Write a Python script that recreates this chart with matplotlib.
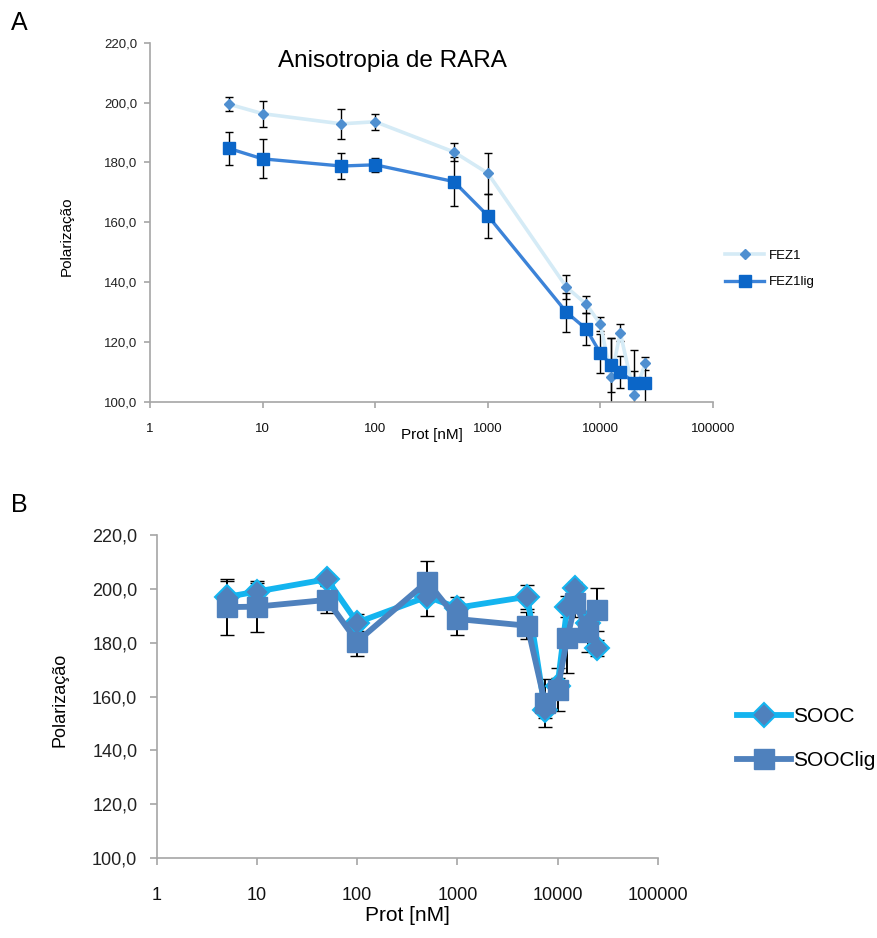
import matplotlib
matplotlib.use("Agg")
import matplotlib.pyplot as plt
from matplotlib.ticker import FixedLocator, NullLocator

plt.rcParams['font.family'] = ['Liberation Sans', 'DejaVu Sans']

# concentrations (nM)
prot = [5, 10, 50, 100, 500, 1000, 5000, 7500, 10000, 12500, 15000, 20000, 25000]

# panel A - FEZ1 anisotropy
fez1 = [199.5, 196.3, 192.9, 193.6, 183.5, 176.4, 138.3, 132.6, 125.9, 108.2, 123.1, 102.2, 112.8]
fez1_err = [2.3, 4.4, 5.0, 2.7, 3.0, 6.9, 4.0, 2.9, 2.3, 13.0, 2.8, 15.0, 2.2]
fez1lig = [184.7, 181.2, 178.8, 179.2, 173.6, 162.2, 129.9, 124.3, 116.2, 112.3, 110.0, 106.4, 106.1]
fez1lig_err = [5.6, 6.5, 4.3, 2.4, 8.3, 7.3, 6.5, 5.4, 6.5, 9.0, 5.3, 4.0, 7.0]

# panel B - SOOC
sooc = [197.0, 199.0, 203.6, 187.5, 197.1, 193.0, 197.1, 155.0, 164.0, 193.4, 200.2, 187.5, 178.0]
sooc_err = [6.0, 3.0, 2.0, 3.0, 7.0, 4.0, 4.5, 3.0, 3.0, 4.0, 2.5, 3.0, 3.0]
sooclig = [193.2, 193.4, 195.9, 180.4, 202.7, 188.8, 186.3, 157.5, 162.5, 181.7, 194.6, 184.1, 192.2]
sooclig_err = [10.3, 9.5, 5.0, 5.5, 7.5, 6.0, 5.0, 9.0, 8.0, 13.0, 5.0, 7.5, 8.0]

x_ticks = [1, 10, 100, 1000, 10000, 100000]
x_labels = ["1", "10", "100", "1000", "10000", "100000"]
y_ticks = [100, 120, 140, 160, 180, 200, 220]
y_labels = ["100,0", "120,0", "140,0", "160,0", "180,0", "200,0", "220,0"]

AXIS_GREY = "#a6a6a6"


def style_axes(ax, tick_size, xpad, ypad, tick_len):
    ax.set_xscale("log")
    ax.set_xlim(1, 100000)
    ax.set_ylim(100, 220)
    ax.xaxis.set_major_locator(FixedLocator(x_ticks))
    ax.xaxis.set_minor_locator(NullLocator())
    ax.set_xticklabels(x_labels)
    ax.set_yticks(y_ticks)
    ax.set_yticklabels(y_labels)
    for side in ["top", "right"]:
        ax.spines[side].set_visible(False)
    for side in ["left", "bottom"]:
        ax.spines[side].set_color(AXIS_GREY)
        ax.spines[side].set_linewidth(1.2)
    ax.tick_params(axis="both", color=AXIS_GREY, width=1.2, length=tick_len, labelsize=tick_size)
    ax.tick_params(axis="x", pad=xpad, labelcolor="#111111")
    ax.tick_params(axis="y", pad=ypad, labelcolor="#222222")


fig = plt.figure(figsize=(8.77, 9.38), dpi=100)

# ---- panel A ----
axA = fig.add_axes([0.171, 0.5717, 0.642, 0.3827])
axA.errorbar(prot, fez1, yerr=fez1_err, fmt="none", ecolor="black", elinewidth=1, capsize=3, zorder=2)
axA.errorbar(prot, fez1lig, yerr=fez1lig_err, fmt="none", ecolor="black", elinewidth=1, capsize=3, zorder=2)
axA.plot(prot, fez1, color="#d5ebf6", lw=2.6, marker="D", ms=5.5,
         mfc="#4f8fd0", mec="#4f8fd0", label="FEZ1", zorder=3)
axA.plot(prot, fez1lig, color="#3c83d8", lw=2.4, marker="s", ms=8,
         mfc="#0b66c8", mec="#0b66c8", label="FEZ1lig", zorder=4)
style_axes(axA, 9.5, 11, 5, 4)
axA.set_xlabel("Prot [nM]", fontsize=11)
axA.xaxis.set_label_coords(0.5, -0.072)
axA.set_ylabel("Polarização", fontsize=11)
axA.yaxis.set_label_coords(-0.135, 0.46)
axA.text(0.43, 0.95, "Anisotropia de RARA", transform=axA.transAxes,
         ha="center", va="center", fontsize=17.5)
axA.legend(loc="center left", bbox_to_anchor=(1.0, 0.37), frameon=False,
           fontsize=9.5, handlelength=3, labelspacing=1.1, handletextpad=0.3)
fig.text(0.012, 0.975, "A", fontsize=18, va="center")

# ---- panel B ----
axB = fig.add_axes([0.1787, 0.0853, 0.5713, 0.3443])
axB.errorbar(prot, sooc, yerr=sooc_err, fmt="none", ecolor="black", elinewidth=1.4, capsize=5, zorder=2)
axB.errorbar(prot, sooclig, yerr=sooclig_err, fmt="none", ecolor="black", elinewidth=1.4, capsize=5, zorder=2)
axB.plot(prot, sooc, color="#14b4ef", lw=4.2, marker="D", ms=12,
         mfc="#4f81bd", mec="#14b4ef", mew=1.5, label="SOOC", zorder=3)
axB.plot(prot, sooclig, color="#4f81bd", lw=4.2, marker="s", ms=14,
         mfc="#4f81bd", mec="#4f81bd", label="SOOClig", zorder=4)
style_axes(axB, 13, 16, 9, 5)
axB.set_xlabel("Prot [nM]", fontsize=15)
axB.xaxis.set_label_coords(0.5, -0.15)
axB.set_ylabel("Polarização", fontsize=13)
axB.yaxis.set_label_coords(-0.177, 0.49)
axB.legend(loc="center left", bbox_to_anchor=(1.12, 0.37), frameon=False,
           fontsize=15, handlelength=2.6, labelspacing=1.2, handletextpad=0.1)
fig.text(0.012, 0.462, "B", fontsize=18, va="center")

fig.savefig("out.png", dpi=100)
